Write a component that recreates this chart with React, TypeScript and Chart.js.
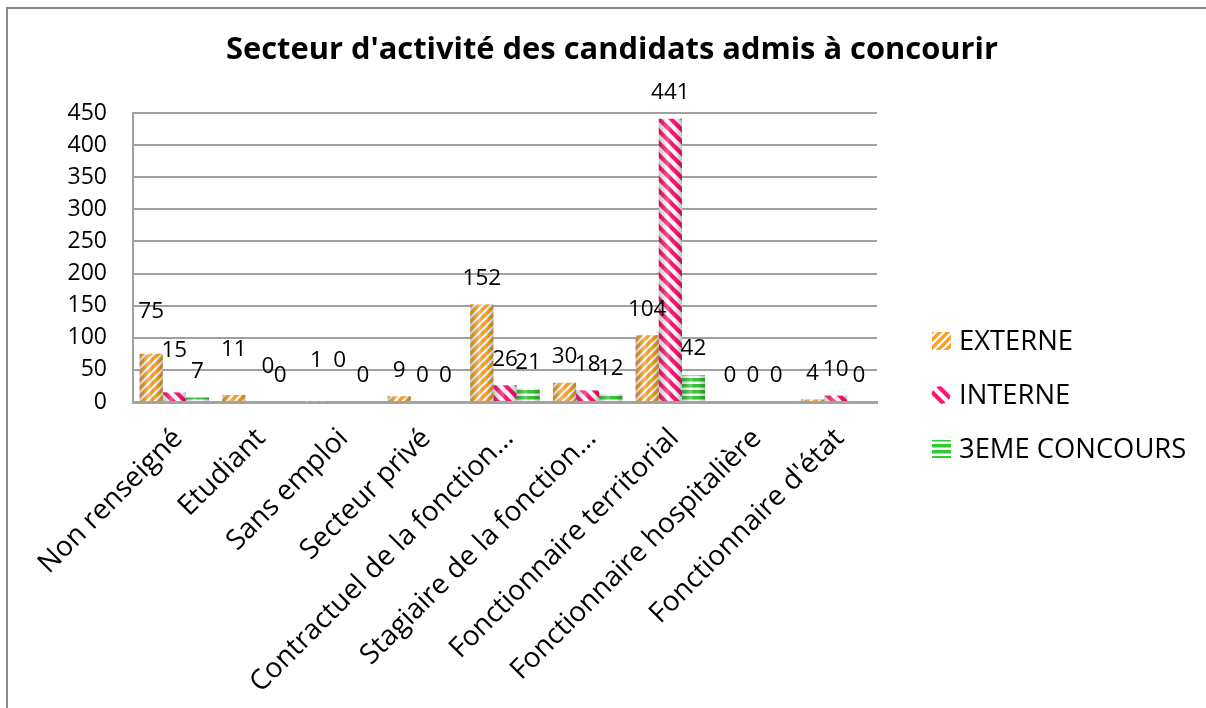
import { useEffect, useRef } from "react";
import { Chart, registerables } from "chart.js";

Chart.register(...registerables);

const chartTitle = "Secteur d'activité des candidats admis à concourir";
const categories = [
  "Non renseigné",
  "Etudiant",
  "Sans emploi",
  "Secteur privé",
  "Contractuel de la fonction…",
  "Stagiaire de la fonction…",
  "Fonctionnaire territorial",
  "Fonctionnaire hospitalière",
  "Fonctionnaire d'état",
];
const seriesNames = ["EXTERNE", "INTERNE", "3EME CONCOURS"];
const externe = [75, 11, 1, 9, 152, 30, 104, 0, 4];
const interne = [15, 0, 0, 0, 26, 18, 441, 0, 10];
const troisieme = [7, 0, 0, 0, 21, 12, 42, 0, 0];
const yMin = 0;
const yMax = 450;
const yStep = 50;

// label nudges (dataset, index, dx, dy) reproducing the reference's label placement
const labelNudges: [number, number, number, number][] = [
  [0, 0, 0, -16],
  [1, 0, 0, -16],
  [0, 1, 0, -19],
  [1, 1, 11, -9],
  [0, 2, 0, -15],
  [1, 2, 0, -15],
];

const FONT = "'Open Sans', Lato, sans-serif";
const ORANGE = "#FFA21A";
const PINK = "#FF1474";
const GREEN = "#35C935";

function makePattern(kind: "fwd" | "back" | "horiz"): CanvasPattern | string {
  const c = document.createElement("canvas");
  const ctx = c.getContext("2d");
  if (!ctx) return "#888";
  if (kind === "horiz") {
    c.width = 6;
    c.height = 6;
    ctx.fillStyle = "#fff";
    ctx.fillRect(0, 0, 6, 6);
    ctx.fillStyle = GREEN;
    ctx.fillRect(0, 0, 6, 3.5);
    return ctx.createPattern(c, "repeat") as CanvasPattern;
  }
  const p = kind === "fwd" ? 8 : 12;
  const lw = kind === "fwd" ? 3.4 : 4.2;
  c.width = p;
  c.height = p;
  ctx.fillStyle = "#fff";
  ctx.fillRect(0, 0, p, p);
  ctx.strokeStyle = kind === "fwd" ? ORANGE : PINK;
  ctx.lineWidth = lw;
  ctx.beginPath();
  if (kind === "fwd") {
    ctx.moveTo(-p / 2, p / 2);
    ctx.lineTo(p / 2, -p / 2);
    ctx.moveTo(0, p);
    ctx.lineTo(p, 0);
    ctx.moveTo(p / 2, (3 * p) / 2);
    ctx.lineTo((3 * p) / 2, p / 2);
  } else {
    ctx.moveTo(-p / 2, p / 2);
    ctx.lineTo(p / 2, (3 * p) / 2);
    ctx.moveTo(0, 0);
    ctx.lineTo(p, p);
    ctx.moveTo(p / 2, -p / 2);
    ctx.lineTo((3 * p) / 2, p / 2);
  }
  ctx.stroke();
  return ctx.createPattern(c, "repeat") as CanvasPattern;
}

function fitFont(ctx: CanvasRenderingContext2D, text: string, weight: string, target: number) {
  ctx.font = `${weight} 30px ${FONT}`;
  const w = ctx.measureText(text).width;
  const size = (30 * target) / w;
  return `${weight} ${size.toFixed(2)}px ${FONT}`;
}

export default function App() {
  const canvasRef = useRef<HTMLCanvasElement | null>(null);

  useEffect(() => {
    const canvas = canvasRef.current;
    if (!canvas) return;
    const patterns = [makePattern("fwd"), makePattern("back"), makePattern("horiz")];
    const values = [externe, interne, troisieme];

    const shadePlugin = {
      id: "shade",
      afterDatasetsDraw(chart: any) {
        const ctx = chart.ctx;
        ctx.save();
        chart.data.datasets.forEach((_: any, di: number) => {
          const meta = chart.getDatasetMeta(di);
          meta.data.forEach((bar: any) => {
            const { x, y, base, width } = bar.getProps(["x", "y", "base", "width"], true);
            const h = base - y;
            if (h <= 0.5) return;
            const left = x - width / 2;
            const g = ctx.createLinearGradient(left, 0, left + width, 0);
            g.addColorStop(0, "rgba(0,0,0,0.22)");
            g.addColorStop(0.4, "rgba(255,255,255,0.25)");
            g.addColorStop(0.65, "rgba(0,0,0,0)");
            g.addColorStop(1, "rgba(0,0,0,0.25)");
            ctx.fillStyle = g;
            ctx.fillRect(left, y, width, h);
          });
        });
        ctx.restore();
      },
    };

    const labelPlugin = {
      id: "valueLabels",
      afterDatasetsDraw(chart: any) {
        const ctx = chart.ctx;
        ctx.save();
        ctx.font = `22.5px ${FONT}`;
        ctx.fillStyle = "#000";
        ctx.textAlign = "center";
        ctx.textBaseline = "middle";
        chart.data.datasets.forEach((ds: any, di: number) => {
          const meta = chart.getDatasetMeta(di);
          meta.data.forEach((bar: any, i: number) => {
            let dx = 0;
            let dy = 0;
            labelNudges.forEach(([d, j, ndx, ndy]) => {
              if (d === di && j === i) {
                dx = ndx;
                dy = ndy;
              }
            });
            ctx.fillText(String(ds.data[i]), bar.x + dx, bar.y - 26 + dy);
          });
        });
        ctx.restore();
      },
    };

    const decorPlugin = {
      id: "decor",
      afterDraw(chart: any) {
        const ctx = chart.ctx;
        ctx.save();
        // title
        ctx.font = fitFont(ctx, chartTitle, "bold", 772);
        ctx.fillStyle = "#000";
        ctx.textAlign = "center";
        ctx.textBaseline = "middle";
        ctx.fillText(chartTitle, 612, 50);
        // legend
        ctx.font = fitFont(ctx, seriesNames[0], "normal", 114);
        ctx.textAlign = "left";
        const rows = [341, 395, 449];
        seriesNames.forEach((name, i) => {
          const cy = rows[i];
          ctx.fillStyle = patterns[i] as any;
          if (i === 1) {
            ctx.beginPath();
            ctx.ellipse(941, cy, 9.5, 9, 0, 0, Math.PI * 2);
            ctx.fill();
          } else {
            ctx.fillRect(932, cy - 9, 19, 18);
          }
          ctx.fillStyle = "#000";
          ctx.fillText(name, 959, cy + 1);
        });
        ctx.restore();
      },
    };

    const chart = new Chart(canvas, {
      type: "bar",
      data: {
        labels: categories,
        datasets: seriesNames.map((name, i) => ({
          label: name,
          data: values[i],
          backgroundColor: patterns[i] as any,
          borderWidth: 0,
          barPercentage: 1,
          categoryPercentage: 0.84,
        })),
      },
      options: {
        responsive: false,
        animation: false,
        devicePixelRatio: 1,
        layout: { padding: { left: 0, right: 329, top: 113, bottom: 0 } },
        plugins: {
          legend: { display: false },
          title: { display: false },
          tooltip: { enabled: false },
        },
        scales: {
          x: {
            grid: { display: false },
            border: { display: true, color: "#a3a3a3", width: 3 },
            ticks: {
              autoSkip: false,
              minRotation: 45,
              maxRotation: 45,
              padding: 12,
              labelOffset: 4,
              color: "#000",
              font: { family: FONT, size: 28 },
            },
            afterFit(scale: any) {
              scale.height = 306;
            },
          },
          y: {
            min: yMin,
            max: yMax,
            ticks: {
              stepSize: yStep,
              padding: 26,
              color: "#000",
              font: { family: FONT, size: 23 },
            },
            grid: { color: "#a0a0a0", lineWidth: 2, drawTicks: false },
            border: { display: true, color: "#a0a0a0", width: 2 },
            afterFit(scale: any) {
              scale.width = 133;
            },
          },
        },
      },
      plugins: [shadePlugin, labelPlugin, decorPlugin],
    });
    return () => chart.destroy();
  }, []);

  return (
    <>
      <div
        style={{
          position: "fixed",
          left: 6,
          top: 7,
          width: 1300,
          height: 800,
          border: "2px solid #8a8a8a",
          boxSizing: "border-box",
        }}
      />
      <canvas
        ref={canvasRef}
        width={1206}
        height={708}
        style={{ position: "fixed", left: 0, top: 0, width: 1206, height: 708 }}
      />
    </>
  );
}
